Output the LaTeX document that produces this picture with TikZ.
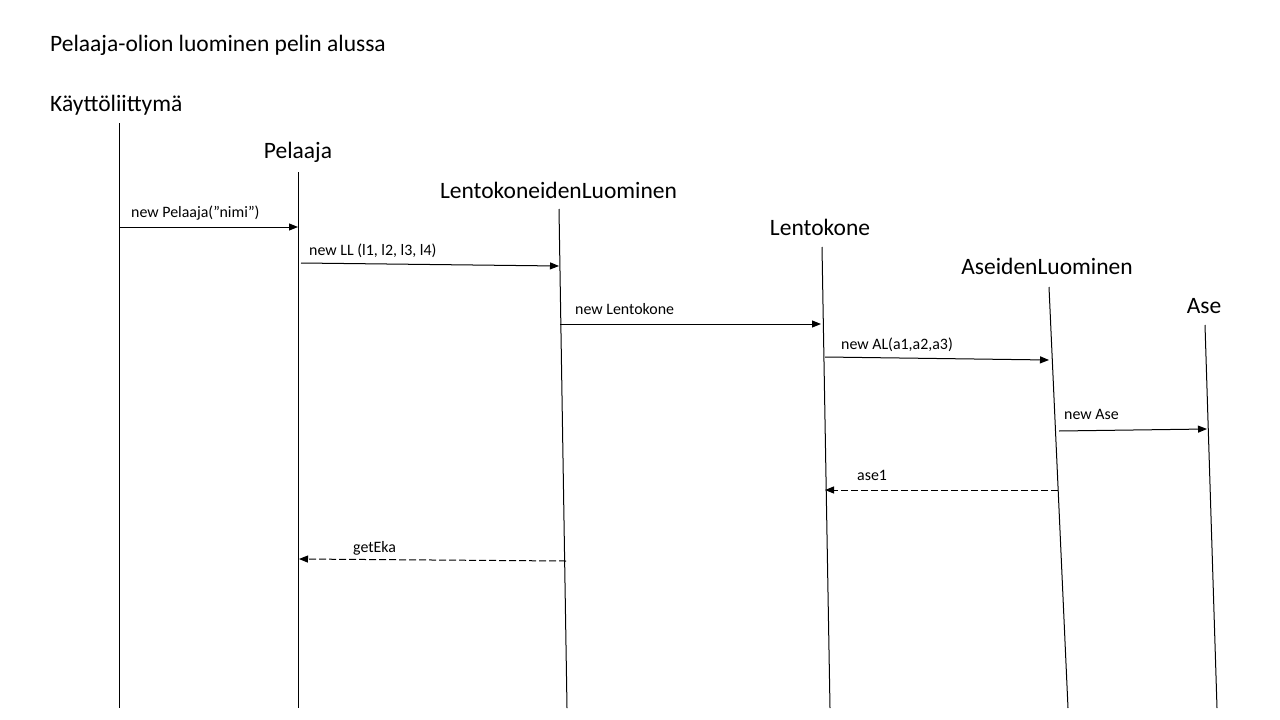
\documentclass[tikz,border=0pt]{standalone}
\usepackage{fontspec}
\setmainfont{Carlito}
\usetikzlibrary{arrows.meta}
\begin{document}
\begin{tikzpicture}[x=1pt,y=-1pt,
  hdr/.style={anchor=base,inner sep=0pt,font=\fontsize{23.5}{28}\selectfont},
  ttl/.style={anchor=base west,inner sep=0pt,font=\fontsize{23.5}{28}\selectfont},
  lbl/.style={anchor=base west,inner sep=0pt,font=\fontsize{15.9}{19}\selectfont},
  life/.style={line width=1pt,black},
  msg/.style={line width=1pt,-{Triangle[length=9pt,width=7pt]}},
  ret/.style={line width=1pt,dash pattern=on 7pt off 3pt,-{Triangle[length=9pt,width=7pt]}}]
\useasboundingbox (0,0) rectangle (1280,720);
\fill[white] (0,0) rectangle (1280,720);
% titles and headers
\node[ttl] (title) at (50,51) {Pelaaja-olion luominen pelin alussa};
\node[ttl] (ui) at (50,111) {Käyttöliittymä};
\node[hdr] (pel) at (298,158) {Pelaaja};
\node[hdr] (ll) at (558.5,198) {LentokoneidenLuominen};
\node[hdr] (lk) at (820,235) {Lentokone};
\node[hdr] (al) at (1047,274) {AseidenLuominen};
\node[hdr] (ase) at (1204,313) {Ase};
% lifelines
\coordinate (uiT) at (119,123); \coordinate (uiB) at (119,708);
\coordinate (pelT) at (298,172); \coordinate (pelB) at (298,708);
\coordinate (llT) at (559,209); \coordinate (llB) at (567,708);
\coordinate (lkT) at (822,247); \coordinate (lkB) at (830,708);
\coordinate (alT) at (1049,287); \coordinate (alB) at (1068,708);
\coordinate (aseT) at (1205,325); \coordinate (aseB) at (1217,708);
\draw[life] (uiT) -- (uiB);
\draw[life] (pelT) -- (pelB);
\draw[life] (llT) -- (llB);
\draw[life] (lkT) -- (lkB);
\draw[life] (alT) -- (alB);
\draw[life] (aseT) -- (aseB);
% message endpoints
\coordinate (m1a) at (119,227); \coordinate (m1b) at (298,227);
\coordinate (m2a) at (301,263); \coordinate (m2b) at (559,266);
\coordinate (m3a) at (560,324); \coordinate (m3b) at (821,324);
\coordinate (m4a) at (825,357); \coordinate (m4b) at (1049,360);
\coordinate (m5a) at (1059,431); \coordinate (m5b) at (1207,429);
\coordinate (m6a) at (1058,490); \coordinate (m6b) at (825,490);
\coordinate (m7a) at (566,561); \coordinate (m7b) at (299,559);
\draw[msg] (m1a) -- (m1b);
\draw[msg] (m2a) -- (m2b);
\draw[msg] (m3a) -- (m3b);
\draw[msg] (m4a) -- (m4b);
\draw[msg] (m5a) -- (m5b);
\draw[ret] (m6a) -- (m6b);
\draw[ret] (m7a) -- (m7b);
% labels
\node[lbl] (l1) at (131,217) {new Pelaaja(”nimi”)};
\node[lbl] (l2) at (309,255) {new LL (l1, l2, l3, l4)};
\node[lbl] (l3) at (575,314) {new Lentokone};
\node[lbl] (l4) at (841,349) {new AL(a1,a2,a3)};
\node[lbl] (l5) at (1064,419) {new Ase};
\node[lbl] (l6) at (857,480) {ase1};
\node[lbl] (l7) at (353,552) {getEka};
\end{tikzpicture}
\end{document}
